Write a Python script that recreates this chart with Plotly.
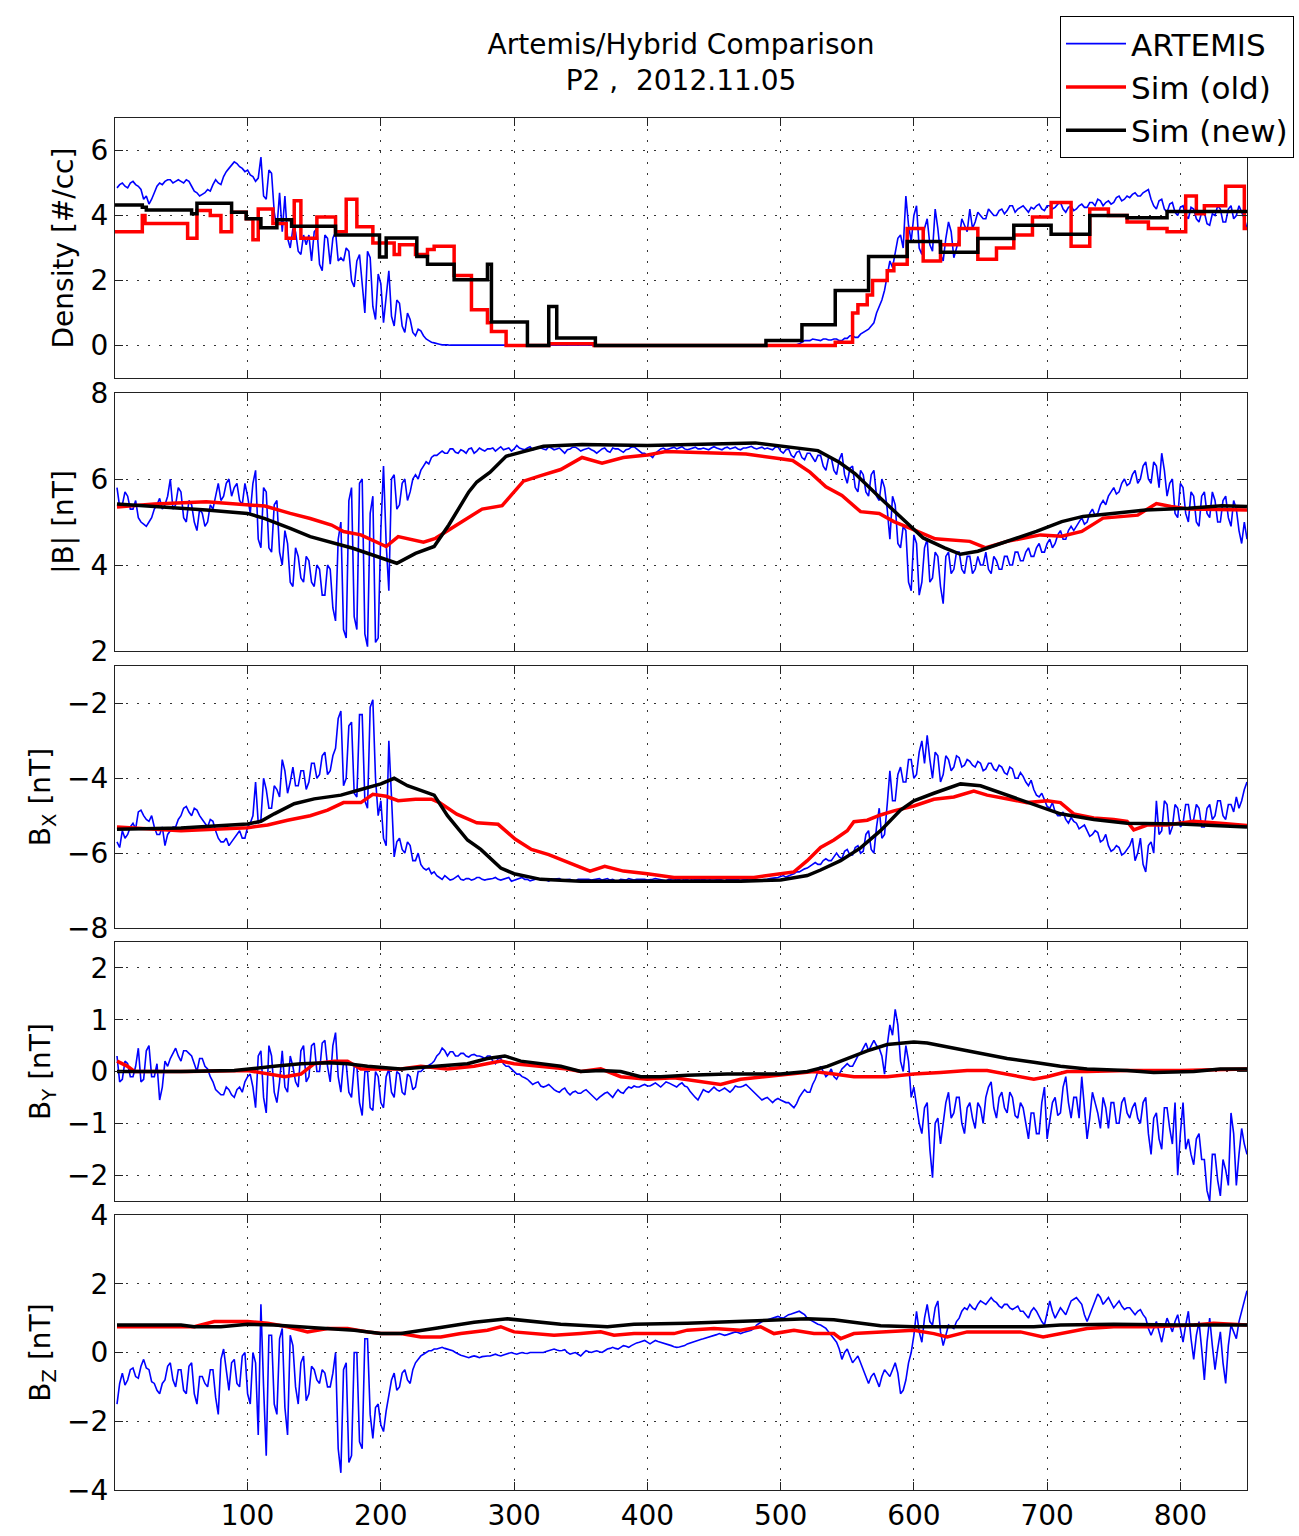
import numpy as np
import plotly.graph_objects as go
from plotly.subplots import make_subplots

# ---------------- data ----------------
# ARTEMIS observations sampled every 2 time units (t = 2, 4, ..., 850)
t_artemis = list(range(2, 851, 2))

dens_artemis = [
    4.85, 4.95, 5.0, 4.9, 4.85, 5.0, 5.05, 4.95, 4.9, 4.8, 4.5, 4.6, 4.35, 4.5, 4.7, 4.9, 5.0, 4.95, 5.05, 5.1,
    5.1, 5.0, 5.05, 5.1, 5.05, 5.0, 5.1, 5.05, 4.9, 4.75, 4.7, 4.6, 4.65, 4.7, 4.8, 4.75, 4.95, 5.1, 5.0, 4.95,
    5.2, 5.35, 5.45, 5.55, 5.65, 5.6, 5.5, 5.45, 5.35, 5.4, 5.25, 5.2, 5.05, 5.15, 5.8, 4.6, 4.5, 5.4, 5.3, 4.1,
    3.6, 4.7, 3.5, 4.6, 3.3, 3.0, 3.6, 3.5, 2.9, 2.8, 3.4, 3.1, 3.4, 2.6, 3.5, 3.6, 2.5, 2.3, 3.4, 3.3,
    2.5, 3.3, 3.5, 2.6, 2.7, 2.6, 3.0, 2.9, 2.0, 1.8, 2.6, 2.8, 1.9, 1.0, 2.9, 2.7, 1.2, 0.8, 2.2, 1.9,
    0.7, 1.6, 2.3, 0.9, 0.6, 1.4, 1.3, 0.6, 0.4, 1.0, 0.8, 0.4, 0.3, 0.5, 0.45, 0.3, 0.2, 0.15, 0.1, 0.08,
    0.05, 0.04, 0.02, 0.03, 0.02, 0.01, 0.01, 0, 0, 0, 0, 0, 0, 0, 0, 0, 0, 0, 0, 0,
    0, 0, 0, 0, 0, 0, 0, 0, 0, 0, 0, 0, 0, 0, 0, 0, 0, 0, 0, 0,
    0, 0, 0, 0, 0, 0, 0, 0, 0, 0, 0, 0, 0, 0, 0, 0, 0, 0, 0, 0,
    0, 0, 0, 0, 0, 0, 0, 0, 0, 0, 0, 0, 0, 0, 0, 0, 0, 0, 0, 0,
    0, 0, 0, 0, 0, 0, 0, 0, 0, 0, 0, 0, 0, 0, 0, 0, 0, 0, 0, 0,
    0, 0, 0, 0, 0, 0, 0, 0, 0, 0, 0, 0, 0, 0, 0, 0, 0, 0, 0, 0,
    0, 0, 0, 0, 0, 0, 0, 0, 0, 0, 0, 0, 0, 0, 0.02, 0.02, 0.05, 0.1, 0.15, 0.15,
    0.15, 0.2, 0.18, 0.15, 0.15, 0.2, 0.2, 0.17, 0.17, 0.2, 0.2, 0.15, 0.15, 0.22, 0.22, 0.3, 0.3, 0.25, 0.25, 0.35,
    0.4, 0.45, 0.5, 0.6, 0.7, 1.0, 1.2, 1.4, 1.7, 2.2, 2.6, 2.4, 2.9, 3.3, 3.4, 3.0, 4.6, 3.7, 3.2, 4.0,
    4.3, 3.0, 2.8, 3.6, 3.9, 3.1, 2.9, 4.2, 3.6, 2.8, 2.6, 3.3, 3.8, 3.5, 2.7, 3.0, 3.3, 3.9, 3.7, 3.5,
    4.2, 3.6, 3.8, 4.1, 4.0, 3.9, 3.9, 4.2, 4.1, 4.0, 4.0, 4.15, 4.2, 4.05, 4.15, 4.3, 4.3, 4.1, 4.2, 4.25,
    4.3, 4.2, 4.1, 4.25, 4.2, 4.3, 4.35, 4.2, 4.15, 4.3, 4.3, 4.2, 4.25, 4.35, 4.4, 4.2, 4.1, 4.25, 4.3, 4.15,
    4.2, 4.3, 4.35, 4.25, 4.25, 4.4, 4.4, 4.3, 4.5, 4.45, 4.3, 4.4, 4.45, 4.35, 4.4, 4.55, 4.6, 4.45, 4.5, 4.6,
    4.55, 4.65, 4.7, 4.6, 4.6, 4.7, 4.75, 4.8, 4.5, 4.3, 4.2, 4.45, 4.5, 4.2, 4.1, 4.35, 4.4, 4.1, 4.0, 4.25,
    4.3, 4.0, 3.9, 4.25, 4.2, 3.9, 3.8, 4.1, 4.1, 3.75, 3.7, 4.05, 4.0, 4.3, 4.2, 3.8, 3.8, 4.2, 4.3, 3.9,
    4.0, 4.3, 4.1, 3.9, 3.6]

bmag_artemis = [
    5.8, 5.35, 5.4, 5.7, 5.6, 5.3, 5.3, 5.5, 5.1, 5.0, 4.95, 4.9, 5.0, 5.1, 5.3, 5.4, 5.55, 5.3, 5.4, 5.6,
    6.0, 5.3, 5.4, 5.8, 5.7, 5.1, 5.0, 5.5, 5.4, 5.0, 4.8, 5.3, 5.2, 4.9, 5.0, 5.4, 5.3, 5.6, 5.9, 5.5,
    5.6, 5.9, 6.0, 5.6, 5.8, 5.9, 5.5, 5.4, 5.9, 5.6, 5.2, 5.9, 6.2, 4.6, 4.4, 5.8, 5.7, 4.4, 4.3, 5.4,
    5.5, 4.3, 4.0, 4.8, 4.5, 3.6, 3.5, 4.4, 4.2, 3.7, 3.6, 4.2, 4.1, 3.6, 3.5, 4.0, 3.9, 3.3, 3.3, 4.0,
    3.9, 3.0, 2.7, 4.6, 5.0, 2.5, 2.3, 5.5, 5.8, 2.8, 2.5, 5.9, 6.0, 2.4, 2.1, 5.2, 5.6, 2.2, 2.3, 4.8,
    6.3, 4.5, 3.4, 6.0, 6.1, 5.3, 5.4, 5.9, 6.0, 5.5, 5.7, 6.0, 6.1, 6.0, 6.2, 6.3, 6.4, 6.35, 6.5, 6.55,
    6.55, 6.6, 6.65, 6.6, 6.6, 6.7, 6.7, 6.62, 6.6, 6.68, 6.65, 6.6, 6.7, 6.72, 6.6, 6.65, 6.72, 6.68, 6.65, 6.7,
    6.7, 6.72, 6.65, 6.7, 6.75, 6.68, 6.7, 6.72, 6.65, 6.7, 6.78, 6.72, 6.7, 6.68, 6.72, 6.75, 6.68, 6.7, 6.75, 6.72,
    6.7, 6.68, 6.75, 6.72, 6.68, 6.7, 6.72, 6.66, 6.6, 6.68, 6.7, 6.74, 6.74, 6.7, 6.65, 6.68, 6.7, 6.72, 6.68, 6.65,
    6.6, 6.65, 6.7, 6.72, 6.65, 6.62, 6.72, 6.7, 6.7, 6.66, 6.62, 6.68, 6.7, 6.74, 6.75, 6.7, 6.65, 6.6, 6.6, 6.55,
    6.55, 6.5, 6.6, 6.65, 6.7, 6.72, 6.68, 6.7, 6.72, 6.74, 6.7, 6.72, 6.75, 6.7, 6.68, 6.7, 6.72, 6.74, 6.7, 6.7,
    6.72, 6.7, 6.68, 6.72, 6.75, 6.72, 6.7, 6.68, 6.72, 6.74, 6.7, 6.72, 6.74, 6.7, 6.68, 6.72, 6.72, 6.74, 6.76, 6.72,
    6.7, 6.72, 6.74, 6.7, 6.72, 6.7, 6.68, 6.74, 6.75, 6.65, 6.6, 6.68, 6.7, 6.55, 6.5, 6.62, 6.65, 6.5, 6.45, 6.6,
    6.6, 6.5, 6.4, 6.55, 6.55, 6.3, 6.2, 6.5, 6.5, 6.2, 6.1, 6.45, 6.6, 6.1, 5.9, 6.25, 6.3, 5.8, 5.7, 6.2,
    6.1, 5.7, 5.6, 6.1, 6.2, 5.6, 5.5, 6.0, 5.8, 5.3, 4.6, 5.6, 5.4, 4.5, 4.4, 4.9, 4.8, 3.6, 3.4, 4.7,
    4.5, 3.3, 3.6, 4.4, 4.6, 3.6, 3.7, 4.3, 4.2, 3.5, 3.1, 4.2, 4.3, 3.8, 3.9, 4.3, 4.3, 3.9, 3.8, 4.2,
    4.2, 3.8, 3.9, 4.2, 4.0, 4.0, 4.3, 3.9, 3.8, 4.2, 4.1, 3.9, 3.9, 4.2, 4.2, 4.0, 4.0, 4.3, 4.3, 4.1,
    4.1, 4.3, 4.4, 4.2, 4.2, 4.4, 4.5, 4.3, 4.3, 4.5, 4.6, 4.4, 4.5, 4.7, 4.8, 4.6, 4.6, 4.8, 4.9, 4.8,
    4.9, 5.0, 5.1, 4.95, 5.0, 5.2, 5.3, 5.15, 5.2, 5.4, 5.5, 5.4, 5.6, 5.7, 5.8, 5.65, 5.7, 5.9, 6.0, 5.85,
    5.9, 6.1, 6.2, 5.9, 6.0, 6.3, 6.4, 6.0, 5.9, 6.4, 6.3, 5.8, 6.6, 6.2, 5.6, 5.9, 6.0, 5.2, 5.1, 5.9,
    5.8, 5.2, 5.0, 5.7, 5.6, 5.0, 4.9, 5.6, 5.7, 5.2, 5.1, 5.7, 5.5, 5.0, 5.0, 5.5, 5.6, 5.1, 4.9, 5.5,
    5.3, 4.8, 4.5, 5.0, 4.6]

bx_artemis = [
    -5.7, -5.85, -5.4, -5.6, -5.5, -5.3, -5.2, -5.35, -4.9, -4.85, -5.0, -5.1, -5.15, -5.0, -5.3, -5.5, -5.5, -5.3, -5.8, -5.5,
    -5.4, -5.3, -5.3, -5.1, -5.0, -4.8, -4.75, -4.9, -5.0, -4.8, -4.85, -5.0, -5.1, -5.2, -5.3, -5.1, -5.15, -5.4, -5.6, -5.7,
    -5.7, -5.6, -5.8, -5.7, -5.6, -5.5, -5.4, -5.6, -5.6, -5.3, -5.2, -5.0, -4.1, -5.2, -5.1, -4.0, -4.3, -4.8, -4.8, -4.2,
    -4.3, -4.5, -3.5, -3.8, -4.4, -4.1, -3.7, -4.2, -4.2, -3.8, -3.8, -4.3, -4.1, -3.6, -3.6, -4.0, -3.9, -3.4, -3.3, -3.9,
    -3.8, -3.4, -3.2, -2.4, -2.2, -4.2, -4.0, -2.6, -2.5, -4.4, -4.5, -2.3, -2.3, -4.6, -4.8, -2.1, -1.9, -4.0, -5.0, -4.6,
    -5.6, -5.8, -3.0, -4.5, -6.1, -5.7, -5.6, -5.9, -6.0, -5.7, -5.8, -6.2, -6.2, -6.0, -6.3, -6.4, -6.45, -6.4, -6.55, -6.5,
    -6.6, -6.65, -6.7, -6.6, -6.65, -6.72, -6.7, -6.65, -6.6, -6.7, -6.72, -6.68, -6.68, -6.72, -6.7, -6.65, -6.65, -6.7, -6.72, -6.7,
    -6.7, -6.68, -6.65, -6.7, -6.72, -6.7, -6.68, -6.65, -6.75, -6.72, -6.7, -6.68, -6.65, -6.7, -6.7, -6.74, -6.72, -6.7, -6.68, -6.72,
    -6.7, -6.72, -6.75, -6.7, -6.7, -6.68, -6.68, -6.72, -6.72, -6.7, -6.7, -6.74, -6.74, -6.7, -6.7, -6.68, -6.68, -6.7, -6.72, -6.7,
    -6.7, -6.68, -6.72, -6.7, -6.68, -6.72, -6.7, -6.74, -6.75, -6.7, -6.7, -6.72, -6.68, -6.7, -6.72, -6.7, -6.7, -6.68, -6.7, -6.72,
    -6.72, -6.7, -6.68, -6.7, -6.7, -6.72, -6.74, -6.7, -6.7, -6.68, -6.72, -6.7, -6.68, -6.72, -6.7, -6.68, -6.72, -6.7, -6.7, -6.72,
    -6.7, -6.72, -6.72, -6.68, -6.68, -6.7, -6.7, -6.72, -6.74, -6.7, -6.7, -6.72, -6.72, -6.7, -6.68, -6.7, -6.7, -6.72, -6.72, -6.7,
    -6.7, -6.72, -6.72, -6.7, -6.7, -6.68, -6.68, -6.66, -6.65, -6.62, -6.6, -6.64, -6.62, -6.58, -6.55, -6.5, -6.5, -6.45, -6.42, -6.4,
    -6.35, -6.3, -6.25, -6.3, -6.3, -6.2, -6.15, -6.2, -6.2, -6.1, -6.0, -6.1, -6.15, -5.95, -5.9, -6.05, -6.05, -5.85, -5.8, -6.0,
    -5.95, -5.5, -5.4, -5.9, -6.0, -5.3, -4.8, -5.6, -5.5, -4.7, -3.8, -4.6, -4.6, -3.9, -3.7, -4.1, -4.1, -3.5, -3.5, -4.0,
    -3.9, -3.3, -3.0, -3.6, -2.85, -3.5, -4.0, -3.3, -3.4, -4.1, -3.9, -3.4, -3.5, -3.8, -3.7, -3.4, -3.45, -3.7, -3.65, -3.5,
    -3.55, -3.65, -3.7, -3.55, -3.6, -3.8, -3.75, -3.6, -3.6, -3.75, -3.8, -3.65, -3.7, -3.85, -3.9, -3.7, -3.75, -4.0, -4.0, -3.85,
    -3.95, -4.1, -4.2, -4.05, -4.3, -4.45, -4.5, -4.4, -4.6, -4.75, -4.8, -4.65, -4.9, -5.0, -5.0, -4.9, -5.1, -5.2, -5.05, -5.15,
    -5.2, -5.35, -5.3, -5.25, -5.4, -5.55, -5.5, -5.4, -5.45, -5.7, -5.65, -5.5, -5.8, -5.95, -5.9, -5.8, -5.85, -6.05, -6.0, -5.9,
    -5.8, -5.6, -6.2, -6.0, -5.6, -6.3, -6.5, -5.8, -5.7, -6.0, -4.6, -5.5, -5.4, -4.6, -4.7, -5.5, -5.3, -4.7, -4.8, -5.3,
    -5.2, -4.7, -4.7, -5.2, -5.1, -4.7, -4.8, -5.3, -5.3, -4.8, -4.7, -5.1, -5.0, -4.6, -4.6, -5.0, -5.1, -4.7, -4.7, -4.9,
    -4.5, -4.8, -4.6, -4.3, -4.1]

by_artemis = [
    0.3, -0.2, -0.15, 0.2, 0.15, -0.1, -0.1, 0.1, 0.45, -0.2, -0.15, 0.4, 0.5, -0.1, -0.1, 0.15, -0.55, -0.3, 0.2, 0.1,
    0.25, 0.35, 0.45, 0.3, 0.2, 0.4, 0.4, 0.35, 0.3, 0.15, 0.0, 0.25, 0.25, 0.1, 0.05, -0.1, -0.2, -0.35, -0.4, -0.45,
    -0.45, -0.3, -0.35, -0.45, -0.5, -0.35, -0.3, -0.4, -0.2, -0.1, -0.05, -0.3, -0.7, 0.3, 0.4, -0.5, -0.8, 0.5, 0.3, -0.4,
    -0.6, -0.2, 0.4, -0.3, -0.4, 0.3, 0.1, -0.2, -0.3, 0.4, 0.5, -0.2, -0.1, 0.5, 0.55, 0.0, 0.0, 0.55, 0.6, 0.1,
    -0.2, 0.5, 0.75, -0.1, -0.4, 0.2, 0.15, -0.4, -0.5, 0.1, 0.1, -0.6, -0.85, 0.0, 0.0, -0.7, -0.75, 0.0, -0.1, -0.6,
    -0.7, -0.1, 0.05, -0.4, -0.5, 0.0, -0.05, -0.4, -0.45, -0.05, -0.1, -0.35, -0.3, 0.0, 0.0, 0.05, 0.1, 0.12, 0.15, 0.2,
    0.3, 0.35, 0.45, 0.4, 0.3, 0.38, 0.38, 0.3, 0.3, 0.35, 0.35, 0.3, 0.28, 0.32, 0.33, 0.3, 0.3, 0.28, 0.25, 0.3,
    0.3, 0.2, 0.15, 0.25, 0.25, 0.15, 0.1, 0.1, 0.05, 0.0, -0.05, -0.05, -0.1, -0.12, -0.15, -0.2, -0.25, -0.22, -0.2, -0.28,
    -0.3, -0.28, -0.25, -0.3, -0.35, -0.38, -0.4, -0.35, -0.32, -0.4, -0.45, -0.4, -0.38, -0.42, -0.42, -0.38, -0.35, -0.4, -0.45, -0.5,
    -0.55, -0.5, -0.45, -0.42, -0.4, -0.45, -0.5, -0.42, -0.35, -0.4, -0.42, -0.35, -0.3, -0.32, -0.28, -0.3, -0.3, -0.27, -0.25, -0.28,
    -0.28, -0.25, -0.22, -0.26, -0.3, -0.25, -0.2, -0.22, -0.25, -0.28, -0.3, -0.25, -0.22, -0.28, -0.3, -0.38, -0.45, -0.5, -0.55, -0.45,
    -0.35, -0.38, -0.4, -0.35, -0.3, -0.35, -0.38, -0.35, -0.32, -0.36, -0.4, -0.35, -0.28, -0.3, -0.3, -0.28, -0.25, -0.3, -0.35, -0.4,
    -0.45, -0.5, -0.55, -0.52, -0.5, -0.55, -0.6, -0.55, -0.52, -0.55, -0.58, -0.6, -0.6, -0.65, -0.7, -0.62, -0.5, -0.42, -0.35, -0.4,
    -0.4, -0.25, -0.15, 0.0, 0.1, 0.0, -0.1, -0.05, 0.05, -0.1, -0.15, -0.05, 0.05, 0.1, 0.15, 0.1, 0.1, 0.2, 0.3, 0.35,
    0.45, 0.55, 0.4, 0.5, 0.6, 0.5, 0.45, 0.3, -0.05, 0.5, 0.9, 0.7, 1.2, 0.9, 0.2, 0.0, 0.5, 0.2, -0.5, -0.3,
    -0.7, -1.0, -1.2, -0.7, -0.6, -1.5, -2.05, -1.0, -0.9, -1.4, -1.0, -0.6, -0.4, -0.9, -0.8, -0.5, -0.5, -1.0, -1.2, -0.7,
    -0.6, -0.9, -1.1, -0.6, -0.7, -1.0, -0.5, -0.3, -0.2, -0.7, -0.9, -0.5, -0.4, -0.7, -0.8, -0.4, -0.5, -0.85, -0.9, -0.6,
    -0.7, -1.0, -1.3, -0.8, -0.8, -1.2, -1.2, -0.6, -0.3, -1.3, -0.9, -0.6, -0.5, -0.85, -0.8, -0.3, -0.1, -0.6, -0.9, -0.5,
    -0.5, -0.9, -0.1, -0.7, -1.3, -0.9, -0.4, -0.6, -0.8, -1.1, -0.5, -0.7, -1.1, -0.6, -0.6, -1.0, -1.0, -0.6, -0.5, -0.8,
    -0.9, -0.7, -0.6, -0.9, -1.0, -0.6, -0.5, -1.2, -1.6, -0.9, -0.8, -1.3, -1.5, -0.7, -0.7, -1.1, -1.4, -0.6, -2.0, -1.2,
    -0.6, -1.5, -1.3, -1.6, -1.8, -1.3, -1.2, -1.7, -1.7, -2.3, -2.5, -1.6, -1.6, -2.1, -2.4, -1.7, -1.9, -2.2, -0.8, -1.2,
    -2.2, -1.6, -1.1, -1.4, -1.6]

bz_artemis = [
    -1.5, -0.9, -0.6, -0.95, -0.8, -0.5, -0.45, -0.7, -0.75, -0.4, -0.2, -0.45, -0.5, -0.85, -0.9, -1.1, -1.2, -0.9, -0.8, -0.4,
    -0.3, -0.8, -1.0, -0.5, -0.5, -1.1, -1.2, -0.4, -0.3, -1.2, -1.5, -0.7, -0.7, -0.9, -1.0, -0.5, -0.5, -1.3, -1.8, -0.2,
    0.1, -0.6, -1.1, -0.3, -0.2, -0.9, -1.0, -0.1, 0.0, -1.2, -1.5, 0.0, -0.3, -2.4, 1.4, -1.0, -3.0, 0.5, 0.5, -1.5,
    -1.8, 0.4, 0.7, -1.6, -2.4, 0.5, 0.2, -1.0, -1.5, -0.3, -0.1, -1.4, -1.2, -0.4, -0.5, -0.8, -0.9, -0.5, -0.6, -1.0,
    -1.0, -0.6, 0.0, -2.8, -3.5, -0.5, -0.3, -3.2, -3.0, 0.0, 0.0, -2.6, -2.8, 0.4, 0.4, -1.8, -2.5, -1.6, -1.5, -2.1,
    -2.3, -1.7, -1.2, -0.8, -0.6, -1.1, -1.0, -0.6, -0.5, -0.8, -0.9, -0.5, -0.3, -0.2, -0.1, -0.05, 0.0, 0.05, 0.05, 0.1,
    0.1, 0.12, 0.15, 0.12, 0.1, 0.08, 0.05, 0.0, -0.05, -0.08, -0.1, -0.12, -0.15, -0.12, -0.1, -0.12, -0.15, -0.12, -0.1, -0.1,
    -0.1, -0.08, -0.05, -0.08, -0.1, -0.07, -0.05, -0.02, 0.0, -0.03, -0.05, -0.02, 0.0, -0.02, -0.03, 0.0, 0.0, 0.02, 0.02, 0.0,
    0.0, 0.03, 0.05, 0.08, 0.1, 0.07, 0.05, 0.06, 0.08, 0.0, -0.05, -0.02, 0.0, -0.05, -0.1, -0.02, 0.05, 0.02, 0.0, 0.03,
    0.05, 0.02, 0.0, 0.05, 0.1, 0.12, 0.15, 0.12, 0.1, 0.15, 0.2, 0.18, 0.15, 0.2, 0.25, 0.28, 0.3, 0.32, 0.35, 0.3,
    0.25, 0.3, 0.35, 0.32, 0.3, 0.28, 0.25, 0.22, 0.2, 0.17, 0.15, 0.16, 0.18, 0.2, 0.25, 0.28, 0.3, 0.32, 0.35, 0.38,
    0.4, 0.42, 0.45, 0.48, 0.5, 0.52, 0.55, 0.52, 0.5, 0.52, 0.55, 0.58, 0.6, 0.58, 0.55, 0.58, 0.6, 0.62, 0.65, 0.7,
    0.8, 0.85, 0.9, 0.92, 0.95, 0.98, 1.0, 1.02, 1.05, 1.02, 1.0, 1.05, 1.1, 1.12, 1.15, 1.18, 1.2, 1.15, 1.1, 1.0,
    0.95, 0.9, 0.85, 0.82, 0.8, 0.75, 0.7, 0.6, 0.5, 0.4, 0.3, 0.1, -0.2, 0.0, 0.1, -0.1, -0.3, -0.2, -0.1, -0.3,
    -0.5, -0.7, -0.9, -0.7, -0.6, -0.8, -1.0, -0.7, -0.5, -0.6, -0.7, -0.5, -0.3, -0.6, -1.2, -1.1, -0.8, -0.3, 0.0, 0.5,
    1.2, 0.6, 0.3, 1.0, 1.4, 0.9, 0.8, 1.3, 1.5, 0.6, 0.2, 0.5, 0.8, 0.75, 0.7, 0.9, 1.0, 1.2, 1.3, 1.25,
    1.4, 1.3, 1.25, 1.4, 1.5, 1.45, 1.4, 1.5, 1.6, 1.5, 1.45, 1.35, 1.3, 1.4, 1.4, 1.3, 1.25, 1.3, 1.35, 1.2,
    1.2, 1.1, 1.0, 1.2, 1.3, 1.2, 1.05, 0.9, 0.8, 1.2, 1.5, 1.2, 1.0, 1.15, 1.3, 1.2, 1.1, 1.3, 1.5, 1.55,
    1.6, 1.5, 1.4, 1.1, 0.9, 1.1, 1.3, 1.5, 1.7, 1.6, 1.4, 1.5, 1.6, 1.45, 1.3, 1.4, 1.5, 1.35, 1.25, 1.3,
    1.3, 1.2, 1.1, 1.2, 1.25, 1.1, 1.0, 0.7, 0.5, 0.7, 0.9, 0.6, 0.3, 0.7, 1.0, 0.8, 0.6, 0.9, 1.1, 0.7,
    0.3, 0.8, 1.2, 0.4, -0.2, 0.5, 0.9, 0.1, -0.8, 0.3, 1.0, 0.2, -0.5, 0.1, 0.6, -0.3, -0.9, 0.2, 0.8, 0.6,
    0.4, 0.9, 1.2, 1.5, 1.8]

# Simulation density (piecewise-constant values, each starting at t)
dens_old_t = [0, 21, 23, 55, 62, 72, 80, 88, 99, 104, 108, 119, 129, 135, 140, 152, 166,
              174, 182, 194, 210, 214, 226, 235, 240, 255, 268, 280, 283, 294, 326, 360,
              541, 554, 558, 565, 569, 580, 585, 595, 607, 620, 634, 648, 662, 675, 689,
              703, 718, 732, 746, 760, 776, 790, 804, 812, 818, 834, 848, 850]
dens_old = [3.5, 4.0, 3.75, 3.3, 4.15, 4.0, 3.5, 4.1, 3.9, 3.25, 4.2, 3.75, 3.3, 4.45, 3.3, 3.95, 3.5,
            4.5, 3.65, 3.15, 2.8, 3.1, 2.8, 2.95, 3.05, 2.15, 1.1, 0.7, 0.43, 0.0, 0.05, 0.0,
            0.1, 1.0, 1.25, 1.55, 2.0, 2.3, 2.5, 3.6, 2.6, 3.1, 3.6, 2.65, 3.0, 3.4, 3.95,
            4.4, 3.05, 4.2, 4.0, 3.8, 3.6, 3.5, 4.6, 4.05, 4.3, 4.9, 3.6, 3.6]

dens_new_t = [0, 21, 24, 58, 62, 88, 99, 110, 122, 133, 166, 199, 204, 227, 235, 255, 280, 283,
              310, 326, 332, 361, 489, 516, 541, 566, 595, 620, 648, 675, 703, 732, 760, 790, 850]
dens_new = [4.32, 4.25, 4.17, 4.05, 4.38, 4.1, 3.9, 3.62, 3.87, 3.67, 3.4, 2.72, 3.31, 2.74, 2.5, 2.02, 2.5, 0.72,
            0.0, 1.2, 0.23, 0.0, 0.15, 0.64, 1.69, 2.74, 3.2, 2.87, 3.29, 3.7, 3.42, 4.0, 3.93, 4.12, 4.12]

# |B|
bmag_old_t = [2, 30, 69, 100, 113, 132, 147, 163, 172, 185, 204, 213, 232, 241, 257, 276, 291, 307,
              320, 335, 351, 366, 382, 400, 414, 474, 500, 509, 522, 534, 546, 560, 574, 585, 597,
              616, 642, 654, 670, 695, 711, 726, 742, 768, 782, 793, 806, 850]
bmag_old = [5.35, 5.42, 5.47, 5.39, 5.37, 5.2, 5.08, 4.93, 4.78, 4.7, 4.43, 4.66, 4.53, 4.62, 4.93, 5.3, 5.38, 5.95,
            6.08, 6.22, 6.5, 6.37, 6.5, 6.56, 6.64, 6.58, 6.47, 6.43, 6.16, 5.82, 5.62, 5.24, 5.2, 5.01, 4.86,
            4.61, 4.55, 4.4, 4.55, 4.7, 4.67, 4.78, 5.09, 5.16, 5.43, 5.36, 5.3, 5.28]

bmag_new_t = [2, 38, 69, 100, 113, 132, 147, 179, 200, 212, 226, 240, 251, 266, 272, 282, 294, 307,
              322, 351, 400, 481, 500, 528, 544, 556, 575, 591, 607, 623, 635, 648, 670, 692, 711,
              727, 749, 774, 806, 831, 850]
bmag_new = [5.42, 5.35, 5.28, 5.2, 5.08, 4.85, 4.66, 4.39, 4.16, 4.04, 4.27, 4.43, 4.93, 5.7, 5.93, 6.16, 6.53, 6.63,
            6.76, 6.8, 6.78, 6.84, 6.77, 6.66, 6.39, 6.12, 5.55, 5.09, 4.63, 4.4, 4.25, 4.32, 4.55, 4.78, 5.01,
            5.13, 5.2, 5.28, 5.32, 5.38, 5.36]

# B_X
bx_old_t = [2, 50, 100, 115, 130, 147, 160, 172, 185, 194, 204, 213, 226, 238, 244, 257, 272, 288,
            301, 313, 326, 344, 357, 368, 382, 400, 420, 450, 480, 500, 510, 520, 530, 540, 550,
            555, 565, 575, 585, 600, 615, 630, 645, 655, 670, 685, 700, 710, 720, 735, 750, 760,
            765, 775, 790, 810, 830, 850]
bx_old = [-5.3, -5.4, -5.32, -5.25, -5.12, -5.0, -4.85, -4.65, -4.65, -4.43, -4.48, -4.6, -4.56, -4.56, -4.65, -4.96, -5.19, -5.23,
          -5.63, -5.9, -6.04, -6.3, -6.48, -6.35, -6.48, -6.55, -6.65, -6.65, -6.65, -6.55, -6.5, -6.2, -5.85, -5.65, -5.4,
          -5.16, -5.12, -4.98, -4.87, -4.74, -4.56, -4.5, -4.34, -4.45, -4.56, -4.65, -4.6, -4.65, -4.95, -5.06, -5.1, -5.15,
          -5.38, -5.25, -5.25, -5.15, -5.2, -5.26]

bx_new_t = [2, 50, 100, 110, 120, 135, 150, 170, 185, 200, 210, 220, 240, 250, 265, 275, 290, 300,
            320, 350, 400, 470, 500, 520, 530, 545, 560, 575, 590, 600, 615, 635, 650, 670, 690,
            710, 735, 760, 800, 850]
bx_new = [-5.36, -5.33, -5.22, -5.15, -4.95, -4.68, -4.55, -4.45, -4.3, -4.15, -4.0, -4.2, -4.45, -5.0, -5.65, -5.9, -6.4, -6.55,
          -6.7, -6.75, -6.75, -6.75, -6.72, -6.6, -6.45, -6.2, -5.86, -5.4, -4.85, -4.6, -4.4, -4.15, -4.2, -4.45, -4.7,
          -4.95, -5.1, -5.2, -5.22, -5.3]

# B_Y
by_old_t = [2, 10, 15, 55, 100, 105, 115, 128, 140, 150, 165, 175, 185, 215, 230, 250, 270, 290, 300,
            320, 340, 350, 365, 380, 400, 420, 440, 455, 470, 490, 510, 525, 540, 555, 580, 600,
            620, 640, 655, 670, 690, 700, 715, 730, 760, 800, 850]
by_old = [0.2, 0.1, 0.0, 0.0, 0.02, 0.0, -0.05, -0.1, -0.05, 0.15, 0.2, 0.2, 0.05, 0.05, 0.1, 0.05, 0.1, 0.2, 0.15,
          0.1, 0.05, 0.0, 0.05, -0.1, -0.15, -0.12, -0.2, -0.25, -0.15, -0.1, -0.05, 0.0, -0.05, -0.1, -0.1, -0.05,
          -0.02, 0.02, 0.02, -0.05, -0.15, -0.1, 0.0, 0.0, 0.02, 0.02, 0.05]

by_new_t = [2, 50, 90, 100, 120, 140, 160, 175, 190, 215, 240, 265, 280, 293, 305, 320, 335, 350, 365,
            380, 395, 410, 430, 460, 500, 520, 535, 550, 565, 580, 600, 610, 630, 650, 670, 690,
            710, 730, 760, 780, 810, 830, 850]
by_new = [0.0, 0.0, 0.02, 0.05, 0.1, 0.15, 0.17, 0.15, 0.1, 0.05, 0.1, 0.15, 0.25, 0.3, 0.2, 0.15, 0.1, 0.0, 0.02,
          0.0, -0.1, -0.1, -0.07, -0.05, -0.05, 0.0, 0.1, 0.25, 0.4, 0.52, 0.57, 0.55, 0.45, 0.35, 0.25, 0.18,
          0.1, 0.05, 0.02, -0.02, 0.0, 0.05, 0.05]

# B_Z
bz_old_t = [2, 60, 65, 75, 100, 115, 130, 145, 160, 175, 190, 200, 215, 230, 245, 260, 280, 290, 300,
            315, 330, 350, 365, 375, 390, 420, 430, 450, 470, 485, 495, 510, 525, 540, 545, 555,
            575, 600, 615, 625, 640, 660, 680, 697, 710, 730, 750, 780, 810, 825, 850]
bz_old = [0.75, 0.75, 0.8, 0.9, 0.9, 0.85, 0.75, 0.6, 0.7, 0.7, 0.6, 0.55, 0.55, 0.45, 0.45, 0.55, 0.65, 0.75, 0.6,
          0.55, 0.5, 0.55, 0.6, 0.5, 0.55, 0.55, 0.65, 0.7, 0.65, 0.75, 0.55, 0.65, 0.55, 0.55, 0.4, 0.55,
          0.6, 0.65, 0.55, 0.45, 0.6, 0.6, 0.6, 0.45, 0.55, 0.7, 0.75, 0.75, 0.8, 0.85, 0.8]

bz_new_t = [2, 50, 60, 80, 100, 120, 150, 180, 200, 215, 240, 270, 295, 310, 335, 370, 390, 430, 460,
            490, 520, 540, 560, 575, 600, 650, 690, 710, 750, 800, 850]
bz_new = [0.8, 0.8, 0.75, 0.75, 0.82, 0.8, 0.72, 0.65, 0.55, 0.55, 0.7, 0.88, 0.98, 0.92, 0.82, 0.75, 0.82, 0.85, 0.9,
          0.95, 0.98, 0.95, 0.85, 0.78, 0.75, 0.75, 0.75, 0.8, 0.82, 0.8, 0.8]

panel_titles = ["Density [#/cc]", "|B| [nT]", "B<sub>X</sub> [nT]", "B<sub>Y</sub> [nT]", "B<sub>Z</sub> [nT]"]
panel_ranges = [[-1, 7], [2, 8], [-8, -1], [-2.5, 2.5], [-4, 4]]
panel_ticks = [[0, 2, 4, 6], [2, 4, 6, 8], [-8, -6, -4, -2], [-2, -1, 0, 1, 2], [-4, -2, 0, 2, 4]]
x_ticks = [100, 200, 300, 400, 500, 600, 700, 800]
series_names = ["ARTEMIS", "Sim (old)", "Sim (new)"]

# ---------------- figure ----------------
W, H = 1299, 1536
ML, MR, MT, MB = 115, 52, 118, 46
plot_h = H - MT - MB
panel_px = [(118, 378), (393, 651), (666, 928), (942, 1201), (1215, 1490)]
domains = [[(H - MB - b) / plot_h, (H - MB - t) / plot_h] for (t, b) in panel_px]
domains[0][1] = 1.0
domains[4][0] = 0.0

FONT = "DejaVu Sans, Liberation Sans, Arial, sans-serif"
FS = 28

fig = make_subplots(rows=5, cols=1)

artemis = [dens_artemis, bmag_artemis, bx_artemis, by_artemis, bz_artemis]
old = [(dens_old_t, dens_old), (bmag_old_t, bmag_old), (bx_old_t, bx_old), (by_old_t, by_old), (bz_old_t, bz_old)]
new = [(dens_new_t, dens_new), (bmag_new_t, bmag_new), (bx_new_t, bx_new), (by_new_t, by_new), (bz_new_t, bz_new)]

for i in range(5):
    shape = "hv" if i == 0 else "linear"
    fig.add_trace(go.Scatter(x=t_artemis[:len(artemis[i])], y=artemis[i], mode="lines",
                             line=dict(color="#0000ff", width=1.6), name=series_names[0],
                             showlegend=(i == 0)), row=i + 1, col=1)
    fig.add_trace(go.Scatter(x=old[i][0], y=old[i][1], mode="lines",
                             line=dict(color="#ff0000", width=3.5, shape=shape), name=series_names[1],
                             showlegend=(i == 0)), row=i + 1, col=1)
    fig.add_trace(go.Scatter(x=new[i][0], y=new[i][1], mode="lines",
                             line=dict(color="#000000", width=3.5, shape=shape), name=series_names[2],
                             showlegend=(i == 0)), row=i + 1, col=1)

axis_common = dict(ticks="inside", ticklen=8, tickwidth=1, tickcolor="#222",
                   showline=True, mirror="ticks", linecolor="#222", linewidth=1,
                   showgrid=True, gridcolor="#333", gridwidth=1, griddash="2px,9px",
                   zeroline=False, tickfont=dict(family=FONT, size=FS, color="black"))

for i in range(5):
    xa = "xaxis" if i == 0 else f"xaxis{i + 1}"
    ya = "yaxis" if i == 0 else f"yaxis{i + 1}"
    fig.layout[xa].update(range=[0.5, 850], tickvals=x_ticks, showticklabels=(i == 4),
                          domain=[0, 1], **axis_common)
    fig.layout[ya].update(range=panel_ranges[i], tickvals=panel_ticks[i], domain=domains[i],
                          title=dict(text=panel_titles[i], standoff=8, font=dict(family=FONT, size=FS)),
                          **axis_common)

fig.update_layout(
    width=W, height=H,
    margin=dict(l=ML, r=MR, t=MT, b=MB, autoexpand=False),
    paper_bgcolor="white", plot_bgcolor="white",
    font=dict(family=FONT, size=FS, color="black"),
    title=dict(text="Artemis/Hybrid Comparison<br>P2 ,\u00a0 2012.11.05",
               x=0.5, xref="paper", xanchor="center",
               y=1 - 54 / H, yref="container", yanchor="middle",
               font=dict(family=FONT, size=FS)),
    legend=dict(x=(1060 - ML) / (W - ML - MR), y=(H - MB - 16) / plot_h,
                xanchor="left", yanchor="top", bordercolor="black", borderwidth=1,
                bgcolor="white", font=dict(family=FONT, size=31), tracegroupgap=0,
                itemwidth=60),
    showlegend=True,
)

fig.write_html("out.html")
